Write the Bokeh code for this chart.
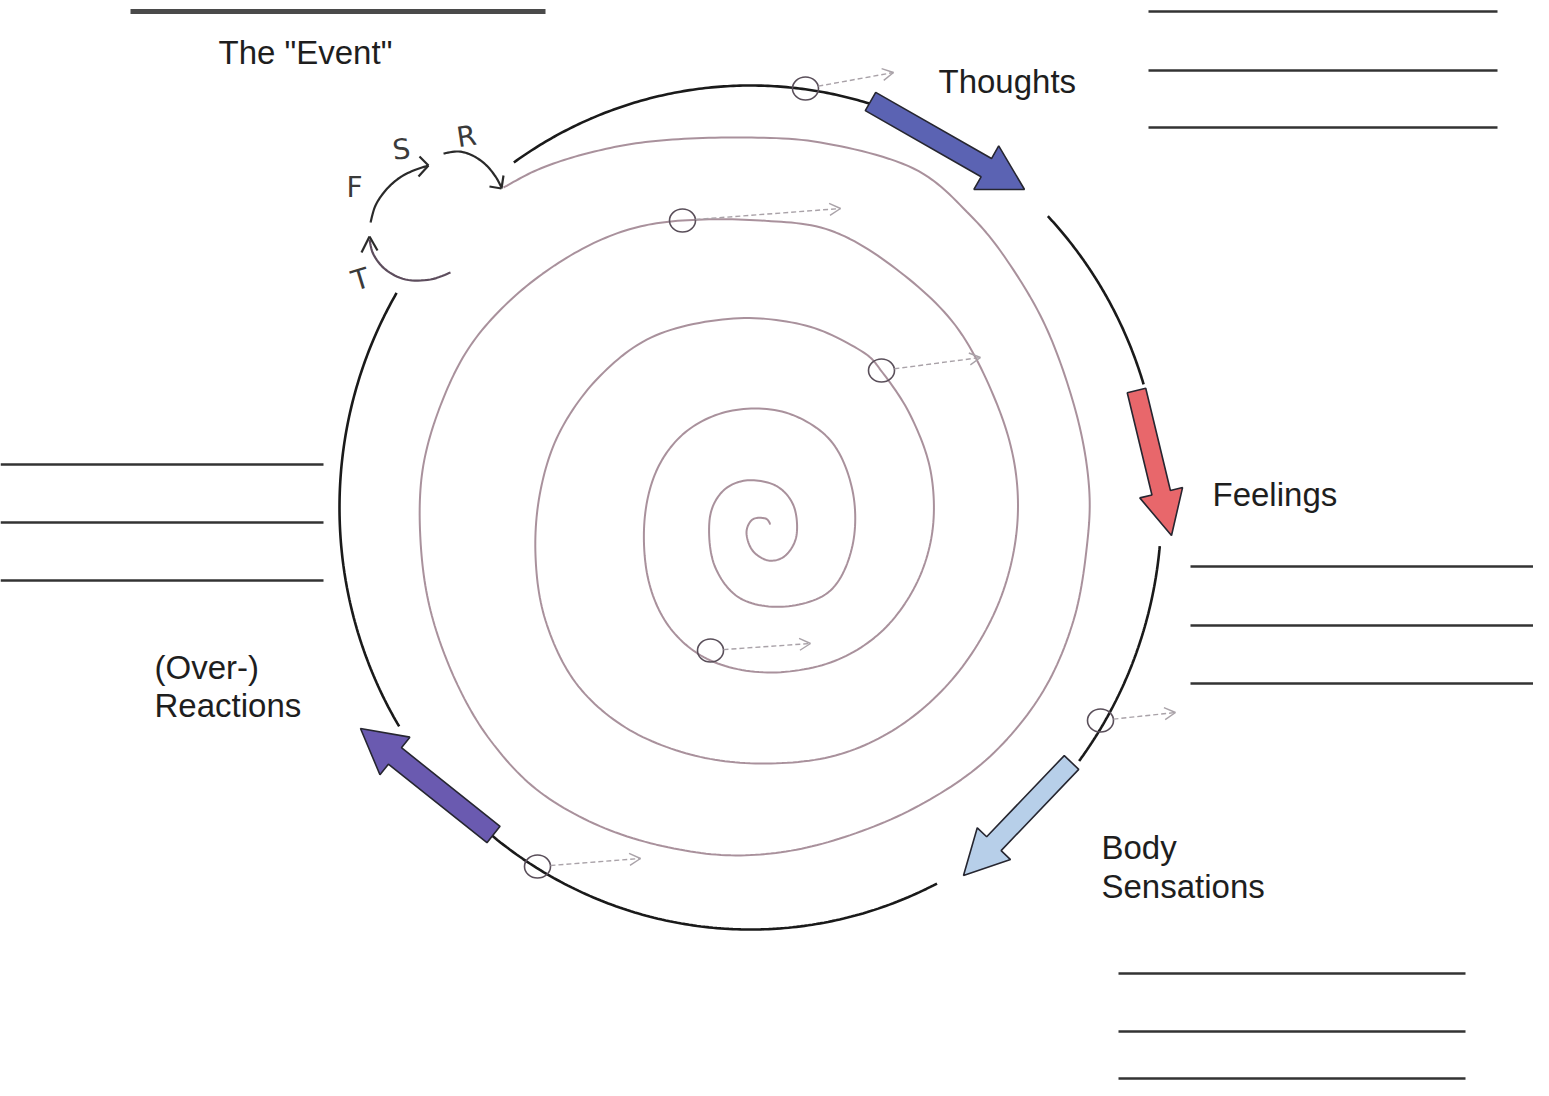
import numpy as np
from bokeh.plotting import figure
from bokeh.models import Range1d
from bokeh.embed import file_html
from bokeh.resources import INLINE
from bokeh.core.properties import value

# ---------------- texts ----------------
event_label = 'The "Event"'
stage_labels = ["Thoughts", "Feelings", "Body", "Sensations", "(Over-)", "Reactions"]
cycle_letters = ["T", "F", "S", "R"]

# ---------------- layout (pixel coordinates of the sheet) ----------------
stage_x = [938, 1212, 1101, 1101, 154, 154]
stage_y = [81, 494, 847, 886, 667, 705]
event_x, event_y = 218, 52

letter_x = [360, 354, 401, 466]
letter_y = [279, 187, 149, 136]
letter_angle = [0.3, 0.0, 0.1, 0.15]

# blank answer lines: (x0, x1, y)
blank_lines = [
    (1148, 1497, 11), (1148, 1497, 70), (1148, 1497, 127),
    (0, 323, 464), (0, 323, 522), (0, 323, 580),
    (1190, 1537, 566), (1190, 1537, 625), (1190, 1537, 683),
    (1118, 1465, 973), (1118, 1465, 1031), (1118, 1465, 1078),
]
event_line = (130, 545, 11)

# outer cycle (ellipse) and its visible arcs between the arrows
cx, cy, rx, ry = 750, 507, 411, 422
arc_ends = [((512, 160), (870, 100)), ((1045, 218), (1130, 388)),
            ((1153, 545), (1078, 760)), ((935, 880), (490, 835)),
            ((397, 727), (392, 290))]

# block arrows: tail, tip, colour, shaft width, head width, head length
arrow_tails = [(870, 101), (1136, 390), (1071, 762), (493, 834)]
arrow_tips = [(1024, 189), (1171, 535), (963, 875), (360, 728)]
arrow_colors = ["#5b63b3", "#e8676b", "#b7cfe9", "#6a5ab0"]
arrow_shaft = [21, 19, 20, 21]
arrow_headw = [50, 44, 46, 48]
arrow_headl = [44, 44, 44, 44]

# spiral control path (clockwise, outside -> centre)
spiral_pts = [
    (503, 187), (540, 168), (590, 152), (650, 141), (733, 137), (820, 142), (913, 168),
    (970, 215), (1010, 265), (1047, 330), (1075, 410), (1088, 480), (1087, 540),
    (1073, 620), (1040, 695), (985, 760), (913, 808), (833, 840), (760, 854),
    (690, 851), (610, 830), (540, 792), (490, 740), (455, 680), (430, 610),
    (420, 540), (422, 470), (440, 405), (470, 345), (515, 295), (570, 255),
    (625, 230), (682, 220),
    (760, 220), (830, 230), (895, 268), (955, 325), (995, 400), (1015, 470),
    (1015, 540), (995, 610), (955, 675), (900, 725), (835, 755), (760, 763),
    (690, 754), (625, 727), (575, 682), (545, 620), (535, 555), (540, 490),
    (560, 430), (600, 375), (655, 335), (733, 318),
    (805, 325), (860, 350), (882, 372), (910, 415), (930, 470), (932, 530),
    (915, 585), (880, 632), (830, 662), (767, 672), (710, 660), (670, 628),
    (648, 580), (644, 520), (657, 468), (687, 430), (732, 410), (785, 412),
    (830, 440), (852, 490), (852, 545), (830, 590), (785, 606), (740, 598),
    (714, 565), (709, 520), (721, 492), (745, 480), (775, 485), (793, 505),
    (796, 535), (785, 555), (768, 560), (752, 550), (746, 532), (752, 519),
    (765, 518), (770, 524),
]

# little "O" marks with faint dashed arrows
mark_x = [805, 682, 881, 710, 1100, 537]
mark_y = [88, 220, 370, 650, 720, 866]
mark_tx = [893, 840, 980, 810, 1175, 640]
mark_ty = [72, 208, 357, 643, 712, 858]

# small T -> F -> S -> R hand-drawn arcs
t_arc = [(450, 272), (430, 279), (405, 279), (385, 269), (373, 254), (369, 239)]
fs_arc = [(370, 222), (375, 205), (385, 190), (398, 178), (413, 170), (428, 165)]
r_arc = [(443, 153), (458, 151), (472, 155), (485, 164), (495, 176), (501, 187)]
heads_small = [((369, 236), (361, 252), (377, 250)),
               ((428, 165), (419, 156), (418, 176)),
               ((501, 188), (489, 186), (503, 175))]


def smooth(pts, n=14):
    P = np.array(pts, float)
    P = np.vstack([P[0], P, P[-1]])
    out = []
    for i in range(1, len(P) - 2):
        p0, p1, p2, p3 = P[i - 1], P[i], P[i + 1], P[i + 2]
        for t in np.linspace(0, 1, n, endpoint=False):
            t2, t3 = t * t, t * t * t
            out.append(0.5 * ((2 * p1) + (-p0 + p2) * t
                              + (2 * p0 - 5 * p1 + 4 * p2 - p3) * t2
                              + (-p0 + 3 * p1 - 3 * p2 + p3) * t3))
    out.append(P[-2])
    return np.array(out)


def ang(pt):
    return np.arctan2((pt[1] - cy) / ry, (pt[0] - cx) / rx)


p = figure(width=1533, height=1080, x_range=Range1d(0, 1533), y_range=Range1d(1080, 0),
           x_axis_type=None, y_axis_type=None, toolbar_location=None,
           output_backend="svg", min_border=0, outline_line_color=None,
           background_fill_color="white", border_fill_color="white")

# blank lines
p.segment(x0=[event_line[0]], x1=[event_line[1]], y0=[event_line[2]], y1=[event_line[2]],
          line_color="#4a4a4a", line_width=5)
p.segment(x0=[b[0] for b in blank_lines], x1=[b[1] for b in blank_lines],
          y0=[b[2] for b in blank_lines], y1=[b[2] for b in blank_lines],
          line_color="#333333", line_width=2.5)

# spiral
sp = smooth(spiral_pts)
p.line(sp[:, 0], sp[:, 1], line_color="#a08591", line_width=2, line_alpha=0.9)

# outer cycle arcs
xs, ys = [], []
for a, b in arc_ends:
    t0, t1 = ang(a), ang(b)
    if t1 < t0:
        t1 += 2 * np.pi
    t = np.linspace(t0, t1, 120)
    xs.append(list(cx + rx * np.cos(t)))
    ys.append(list(cy + ry * np.sin(t)))
p.multi_line(xs, ys, line_color="#1a1a1a", line_width=2.6)

# block arrows
axs, ays = [], []
for (tx, ty), (hx, hy), sw, hw, hl in zip(arrow_tails, arrow_tips, arrow_shaft, arrow_headw, arrow_headl):
    tail = np.array([tx, ty], float)
    tip = np.array([hx, hy], float)
    u = (tip - tail) / np.linalg.norm(tip - tail)
    n = np.array([-u[1], u[0]])
    neck = tip - u * hl
    poly = [tail + n * sw / 2, neck + n * sw / 2, neck + n * hw / 2, tip,
            neck - n * hw / 2, neck - n * sw / 2, tail - n * sw / 2]
    axs.append([q[0] for q in poly])
    ays.append([q[1] for q in poly])
p.patches(axs, ays, fill_color=arrow_colors, line_color="#262630", line_width=1.6)

# small marks + dashed arrows
p.ellipse(x=mark_x, y=mark_y, width=26, height=23, fill_color=None,
          line_color="#5a4f5a", line_width=1.6)
seg_x0, seg_y0, seg_x1, seg_y1 = [], [], [], []
hx0, hy0, hx1, hy1 = [], [], [], []
for mx, my, tx, ty in zip(mark_x, mark_y, mark_tx, mark_ty):
    d = np.array([tx - mx, ty - my], float)
    u = d / np.linalg.norm(d)
    nrm = np.array([-u[1], u[0]])
    seg_x0.append(mx + 13 * u[0]); seg_y0.append(my + 13 * u[1])
    seg_x1.append(tx); seg_y1.append(ty)
    for s in (1, -1):
        b = np.array([tx, ty]) - u * 11 + s * nrm * 6
        hx0.append(tx); hy0.append(ty); hx1.append(b[0]); hy1.append(b[1])
p.segment(seg_x0, seg_y0, seg_x1, seg_y1, line_color="#a9a2a8", line_width=1.4, line_dash="5 3")
p.segment(hx0, hy0, hx1, hy1, line_color="#a9a2a8", line_width=1.4)

# T F S R arcs
for arc, col in zip([t_arc, fs_arc, r_arc], ["#5d4d5d", "#2a2a2a", "#2a2a2a"]):
    s = smooth(arc, 8)
    p.line(s[:, 0], s[:, 1], line_color=col, line_width=2.2)
p.segment([h[0][0] for h in heads_small] * 2, [h[0][1] for h in heads_small] * 2,
          [h[1][0] for h in heads_small] + [h[2][0] for h in heads_small],
          [h[1][1] for h in heads_small] + [h[2][1] for h in heads_small],
          line_color="#2a2a2a", line_width=2.2)
p.text(x=letter_x, y=letter_y, text=cycle_letters, angle=letter_angle,
       text_font=value("DejaVu Sans"), text_font_size="28px", text_color="#3a3a3a",
       text_align="center", text_baseline="middle", text_font_style="normal")

# labels
p.text(x=[event_x], y=[event_y], text=[event_label], text_font=value("Liberation Sans"),
       text_font_size="33px", text_color="#1e1e1e", text_align="left", text_baseline="alphabetic")
p.text(x=stage_x, y=stage_y, text=stage_labels, text_font=value("Liberation Sans"),
       text_font_size="33px", text_color="#1e1e1e", text_align="left", text_baseline="alphabetic")

open("out.html", "w").write(file_html(p, INLINE))
